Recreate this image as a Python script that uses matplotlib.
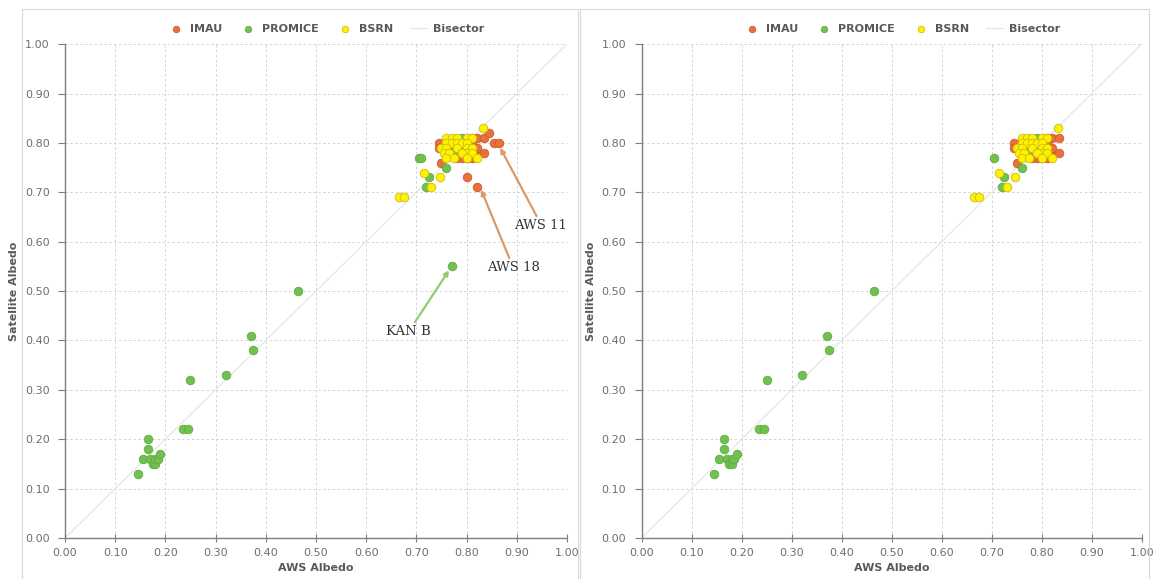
import numpy as np
import matplotlib.pyplot as plt
from matplotlib.patches import Rectangle

# Station data (AWS albedo vs satellite albedo)
# points shared by both panels
imau_x = [0.745, 0.75, 0.745, 0.77, 0.78, 0.79, 0.80, 0.81, 0.82, 0.81, 0.80,
          0.78, 0.79, 0.80, 0.81, 0.82, 0.77, 0.79, 0.81, 0.82, 0.835, 0.835, 0.81]
imau_y = [0.80, 0.76, 0.79, 0.79, 0.80, 0.78, 0.79, 0.79, 0.81, 0.80, 0.78,
          0.77, 0.77, 0.77, 0.78, 0.78, 0.78, 0.79, 0.81, 0.79, 0.78, 0.81, 0.77]

promice_x = [0.145, 0.155, 0.165, 0.165, 0.17, 0.175, 0.18, 0.18, 0.185, 0.19,
             0.235, 0.245, 0.25, 0.32, 0.37, 0.375, 0.465,
             0.705, 0.725, 0.72, 0.76, 0.79, 0.80, 0.77]
promice_y = [0.13, 0.16, 0.20, 0.18, 0.16, 0.15, 0.15, 0.16, 0.16, 0.17,
             0.22, 0.22, 0.32, 0.33, 0.41, 0.38, 0.50,
             0.77, 0.73, 0.71, 0.75, 0.81, 0.79, 0.78]

bsrn_x = [0.665, 0.675, 0.715, 0.73, 0.747, 0.833,
          0.76, 0.77, 0.78, 0.80, 0.81,
          0.76, 0.77, 0.78, 0.79, 0.80,
          0.75, 0.76, 0.78, 0.80, 0.81,
          0.755, 0.765, 0.79, 0.80, 0.81,
          0.76, 0.775, 0.79, 0.80, 0.82]
bsrn_y = [0.69, 0.69, 0.74, 0.71, 0.73, 0.83,
          0.81, 0.81, 0.81, 0.81, 0.81,
          0.80, 0.80, 0.80, 0.80, 0.80,
          0.79, 0.79, 0.79, 0.79, 0.79,
          0.78, 0.78, 0.78, 0.78, 0.78,
          0.77, 0.77, 0.78, 0.77, 0.77]

# outliers only in the left panel
left_imau_x = [0.80, 0.82, 0.845, 0.855, 0.865]
left_imau_y = [0.73, 0.71, 0.82, 0.80, 0.80]
left_promice_x = [0.71, 0.77]
left_promice_y = [0.77, 0.55]

ticks = np.arange(0, 1.01, 0.1)

c_imau, e_imau = '#E8703A', '#D2592A'
c_prom, e_prom = '#72C050', '#5FAE40'
c_bsrn, e_bsrn = '#FFF200', '#CDBB10'
grey = '#595959'
tick_grey = '#6E6E6E'

fig = plt.figure(figsize=(11.54, 5.79), dpi=100)

# panel frames
for x0, w in [(0.019, 0.482), (0.503, 0.493)]:
    fig.patches.append(Rectangle((x0, -0.01), w, 0.995, transform=fig.transFigure,
                                 fill=False, edgecolor='#D9D9D9', linewidth=0.8))

ax1 = fig.add_axes([0.0563, 0.0708, 0.435, 0.853])
ax2 = fig.add_axes([0.556, 0.0708, 0.4333, 0.853])


def draw_panel(ax, ix, iy, px, py, bx, by):
    ax.plot([0, 1], [0, 1], color='#E6E6E6', linewidth=0.9, zorder=1, label='Bisector')
    ax.scatter(ix, iy, s=38, color=c_imau, edgecolors=e_imau, linewidths=0.6, zorder=3, label='IMAU')
    ax.scatter(px, py, s=38, color=c_prom, edgecolors=e_prom, linewidths=0.6, zorder=3, label='PROMICE')
    ax.scatter(bx, by, s=38, color=c_bsrn, edgecolors=e_bsrn, linewidths=0.6, zorder=4, label='BSRN')
    ax.set_xlim(0, 1)
    ax.set_ylim(0, 1)
    ax.set_xticks(ticks)
    ax.set_yticks(ticks)
    ax.set_xticklabels([f'{t:.2f}' for t in ticks])
    ax.set_yticklabels([f'{t:.2f}' for t in ticks])
    ax.grid(True, color='#D3D3D3', linestyle=(0, (2.5, 2.5)), linewidth=0.7)
    ax.set_axisbelow(True)
    for s in ['top', 'right']:
        ax.spines[s].set_visible(False)
    for s in ['left', 'bottom']:
        ax.spines[s].set_color('#7F7F7F')
        ax.spines[s].set_linewidth(1.0)
    ax.tick_params(axis='x', direction='inout', length=6, color='#7F7F7F', labelsize=8,
                   labelcolor=tick_grey, pad=4)
    ax.tick_params(axis='y', direction='out', length=5, color='#7F7F7F', labelsize=8,
                   labelcolor=tick_grey, pad=6)
    ax.set_xlabel('AWS Albedo', fontsize=8, fontweight='bold', color=grey, labelpad=4)
    ax.set_ylabel('Satellite Albedo', fontsize=8, fontweight='bold', color=grey, labelpad=4)
    h, l = ax.get_legend_handles_labels()
    order = [1, 2, 3, 0]
    ax.legend([h[i] for i in order], [l[i] for i in order], loc='lower center',
              bbox_to_anchor=(0.52, 1.0), ncol=4, frameon=False, markerscale=0.75,
              labelcolor=grey, handlelength=1.5, columnspacing=1.6, handletextpad=0.5,
              prop={'weight': 'bold', 'size': 8})


draw_panel(ax1, imau_x + left_imau_x, imau_y + left_imau_y,
           promice_x + left_promice_x, promice_y + left_promice_y, bsrn_x, bsrn_y)
draw_panel(ax2, imau_x, imau_y, promice_x, promice_y, bsrn_x, bsrn_y)

# annotations on the left panel
ann = dict(fontsize=9.5, family='DejaVu Serif', color='#333333')
ax1.annotate('AWS 11', xy=(0.867, 0.79), xytext=(0.895, 0.62), ha='left', va='bottom',
             arrowprops=dict(arrowstyle='-|>', color='#D99A66', lw=1.6, mutation_scale=7,
                             shrinkA=0, shrinkB=0, relpos=(0.45, 1.0)), **ann)
ax1.annotate('AWS 18', xy=(0.829, 0.705), xytext=(0.84, 0.535), ha='left', va='bottom',
             arrowprops=dict(arrowstyle='-|>', color='#D99A66', lw=1.6, mutation_scale=7,
                             shrinkA=0, shrinkB=0, relpos=(0.45, 1.0)), **ann)
ax1.annotate('KAN B', xy=(0.765, 0.542), xytext=(0.64, 0.405), ha='left', va='bottom',
             arrowprops=dict(arrowstyle='-|>', color='#93CC6E', lw=1.6, mutation_scale=7,
                             shrinkA=0, shrinkB=0, relpos=(0.6, 1.0)), **ann)

fig.savefig('out.png', dpi=100, facecolor='white')
